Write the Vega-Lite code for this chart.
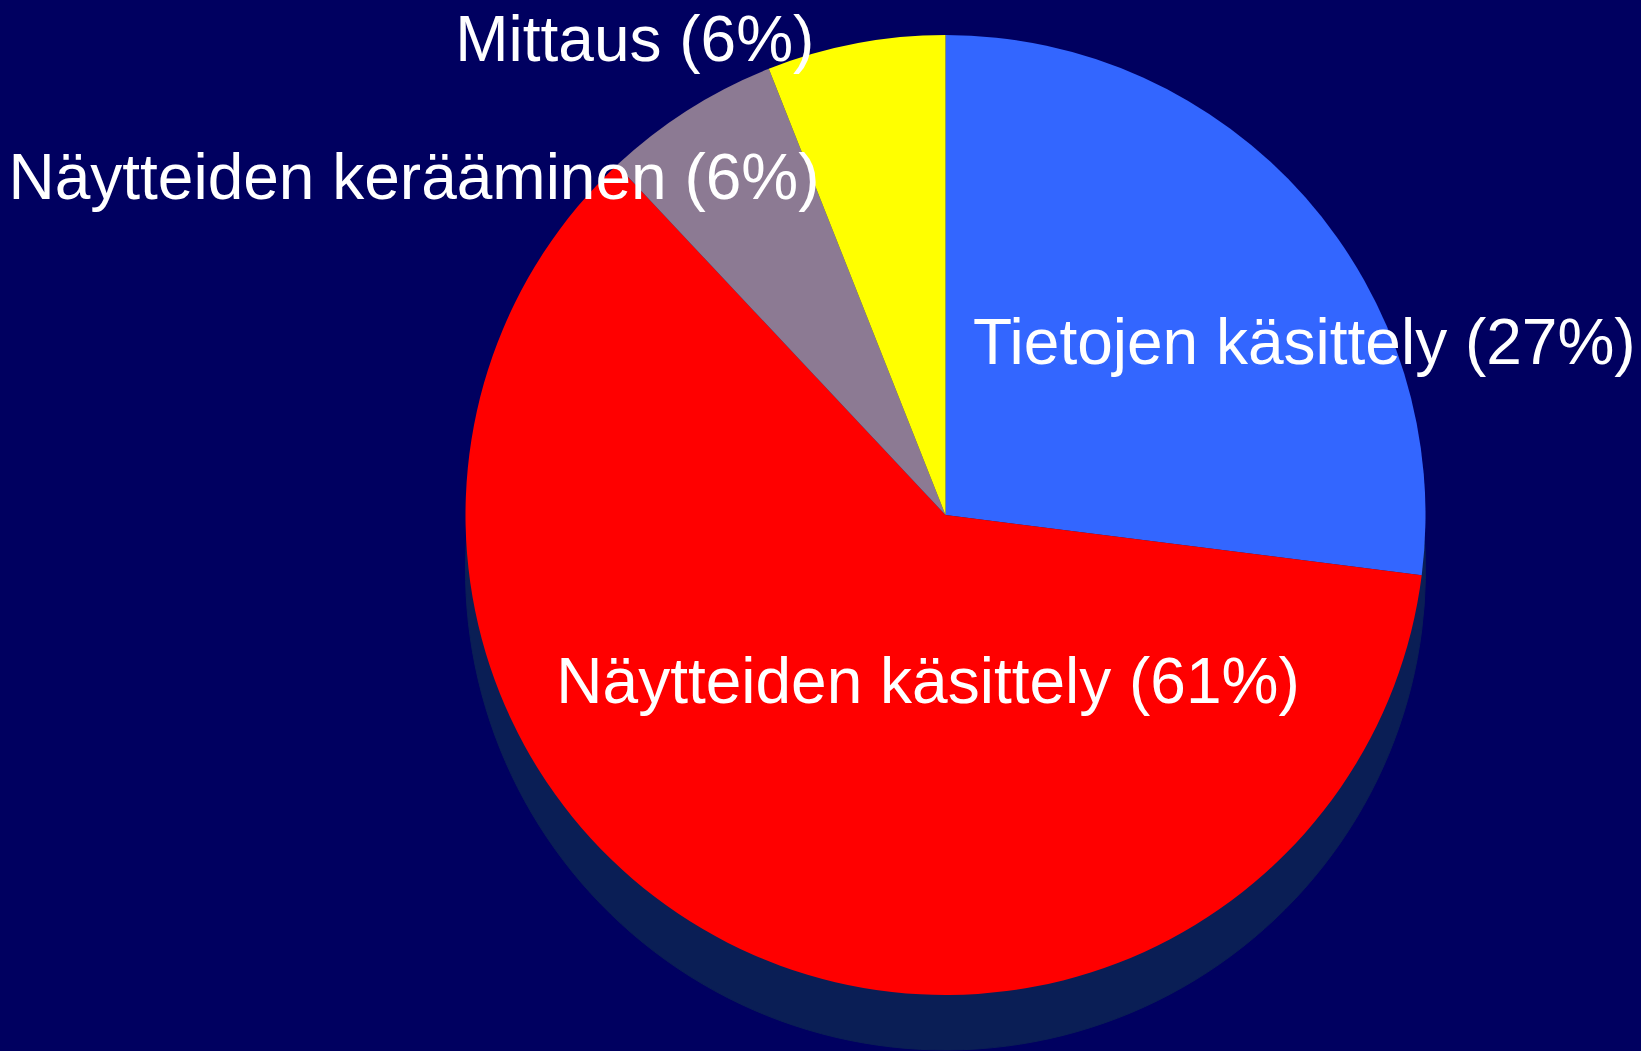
{
  "$schema": "https://vega.github.io/schema/vega-lite/v6.json",
  "width": 1391,
  "height": 1030,
  "autosize": {"type": "none"},
  "padding": {"left": 250, "right": 0, "top": 0, "bottom": 21},
  "background": "#000060",
  "config": {"view": {"stroke": null}},
  "data": {
    "values": [
      {"i": 1, "cat": "Tietojen käsittely", "label": "Tietojen käsittely (27%)", "value": 27},
      {"i": 2, "cat": "Näytteiden käsittely", "label": "Näytteiden käsittely (61%)", "value": 61},
      {"i": 3, "cat": "Näytteiden kerääminen", "label": "Näytteiden kerääminen (6%)", "value": 6},
      {"i": 4, "cat": "Mittaus", "label": "Mittaus (6%)", "value": 6}
    ]
  },
  "encoding": {
    "theta": {"field": "value", "type": "quantitative", "stack": true},
    "order": {"field": "i", "type": "quantitative"}
  },
  "layer": [
    {
      "mark": {"type": "arc", "radius": 480, "yOffset": 55, "color": "#0a1e55", "stroke": "#0a1e55", "strokeWidth": 1}
    },
    {
      "mark": {"type": "arc", "radius": 480},
      "encoding": {
        "color": {
          "field": "cat",
          "type": "nominal",
          "scale": {
            "domain": ["Tietojen käsittely", "Näytteiden käsittely", "Näytteiden kerääminen", "Mittaus"],
            "range": ["#3366ff", "#ff0000", "#8c7a93", "#ffff00"]
          },
          "legend": null
        }
      }
    },
    {
      "mark": {"type": "text", "radius": 369, "dx": 82, "dy": 93, "fontSize": 64, "font": "Liberation Sans", "fill": "white", "align": "center", "baseline": "alphabetic"},
      "encoding": {"text": {"condition": {"test": "datum.i == 1", "field": "label"}, "value": ""}}
    },
    {
      "mark": {"type": "text", "radius": 175, "dx": 62, "dy": 32, "fontSize": 64, "font": "Liberation Sans", "fill": "white", "align": "center", "baseline": "alphabetic"},
      "encoding": {"text": {"condition": {"test": "datum.i == 2", "field": "label"}, "value": ""}}
    },
    {
      "mark": {"type": "text", "radius": 334, "dx": 53, "dy": -34, "fontSize": 64, "font": "Liberation Sans", "fill": "white", "align": "right", "baseline": "alphabetic"},
      "encoding": {"text": {"condition": {"test": "datum.i == 3", "field": "label"}, "value": ""}}
    },
    {
      "mark": {"type": "text", "radius": 470, "dx": -43, "dy": 8, "fontSize": 64, "font": "Liberation Sans", "fill": "white", "align": "right", "baseline": "alphabetic"},
      "encoding": {"text": {"condition": {"test": "datum.i == 4", "field": "label"}, "value": ""}}
    }
  ]
}
